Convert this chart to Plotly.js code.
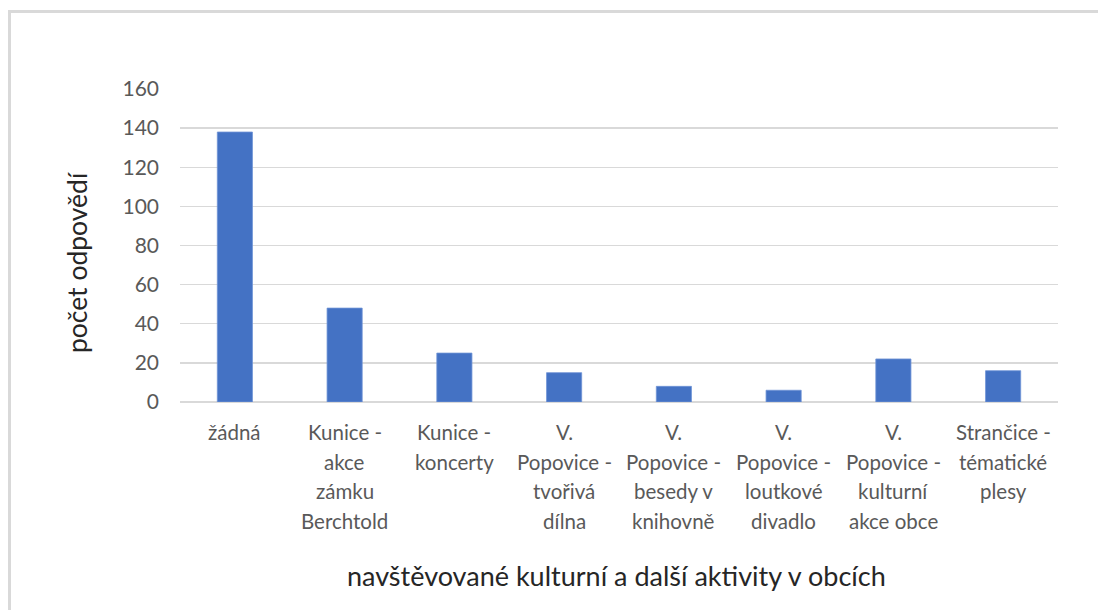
<!DOCTYPE html>
<html>
<head>
<meta charset="utf-8">
<script src="https://cdn.plot.ly/plotly-3.0.1.min.js"></script>
<style>
  html, body { margin: 0; padding: 0; background: #fff; overflow: hidden; }
  #chart { position: absolute; left: 0; top: 0; width: 1098px; height: 610px; }
  #frame { position: absolute; left: 8px; top: 10px; width: 2000px; height: 2000px;
           border-top: 3px solid #d9d9d9; border-left: 3px solid #d9d9d9; pointer-events: none; }
</style>
</head>
<body>
<div id="chart"></div>
<div id="frame"></div>
<script>
const categories = [
  "žádná",
  "Kunice -\nakce\nzámku\nBerchtold",
  "Kunice -\nkoncerty",
  "V.\nPopovice -\ntvořivá\ndílna",
  "V.\nPopovice -\nbesedy v\nknihovně",
  "V.\nPopovice -\nloutkové\ndivadlo",
  "V.\nPopovice -\nkulturní\nakce obce",
  "Strančice -\ntématické\nplesy"
];
const values = [138, 48, 25, 15, 8, 6, 22, 16];
const yTicks = [0, 20, 40, 60, 80, 100, 120, 140, 160];
const xTitle = "navštěvované kulturní a další aktivity v obcích";
const yTitle = "počet odpovědí";

const FONT = "Lato, 'Open Sans', sans-serif";
const catNames = categories.map(c => c.replace(/\n/g, " "));

const annotations = [];
categories.forEach((c, ci) => {
  c.split("\n").forEach((line, li) => {
    annotations.push({
      x: catNames[ci], xref: "x", y: 0, yref: "y",
      text: line, showarrow: false,
      xanchor: "center", yanchor: "middle",
      yshift: -(30 + 29.7 * li),
      font: { family: FONT, size: 20.5, color: "#595959" }
    });
  });
});

// axis titles as annotations for precise placement
annotations.push({
  x: 0.4977, xref: "paper", y: -0.553, yref: "paper",
  text: xTitle, showarrow: false, xanchor: "center", yanchor: "middle",
  font: { family: FONT, size: 27, color: "#262626" }
});
annotations.push({
  x: -0.1173, xref: "paper", y: 0.447, yref: "paper",
  text: yTitle, showarrow: false, xanchor: "center", yanchor: "middle", textangle: -90,
  font: { family: FONT, size: 26.5, color: "#262626" }
});

const trace = {
  type: "bar",
  x: catNames,
  y: values,
  marker: { color: "#4472C4", line: { color: "#6f93d6", width: 0.8 } },
  hoverinfo: "x+y"
};

const layout = {
  width: 1098, height: 610,
  margin: { l: 180, r: 40, t: 89, b: 208 },
  paper_bgcolor: "#ffffff", plot_bgcolor: "#ffffff",
  showlegend: false,
  bargap: 0.68,
  font: { family: FONT, color: "#595959" },
  xaxis: {
    type: "category",
    showticklabels: false,
    showgrid: false, zeroline: false, showline: false, ticks: ""
  },
  yaxis: {
    range: [0, 160],
    tickvals: yTicks,
    ticktext: yTicks.map(String),
    ticks: "",
    ticklabelstandoff: 20,
    tickfont: { family: FONT, size: 21, color: "#595959" },
    showgrid: true, gridcolor: "#d9d9d9", gridwidth: 1.3,
    zeroline: true, zerolinecolor: "#d9d9d9", zerolinewidth: 1.3,
    showline: false
  },
  annotations: annotations
};

Plotly.newPlot("chart", [trace], layout, { displayModeBar: false, staticPlot: true });
</script>
</body>
</html>
